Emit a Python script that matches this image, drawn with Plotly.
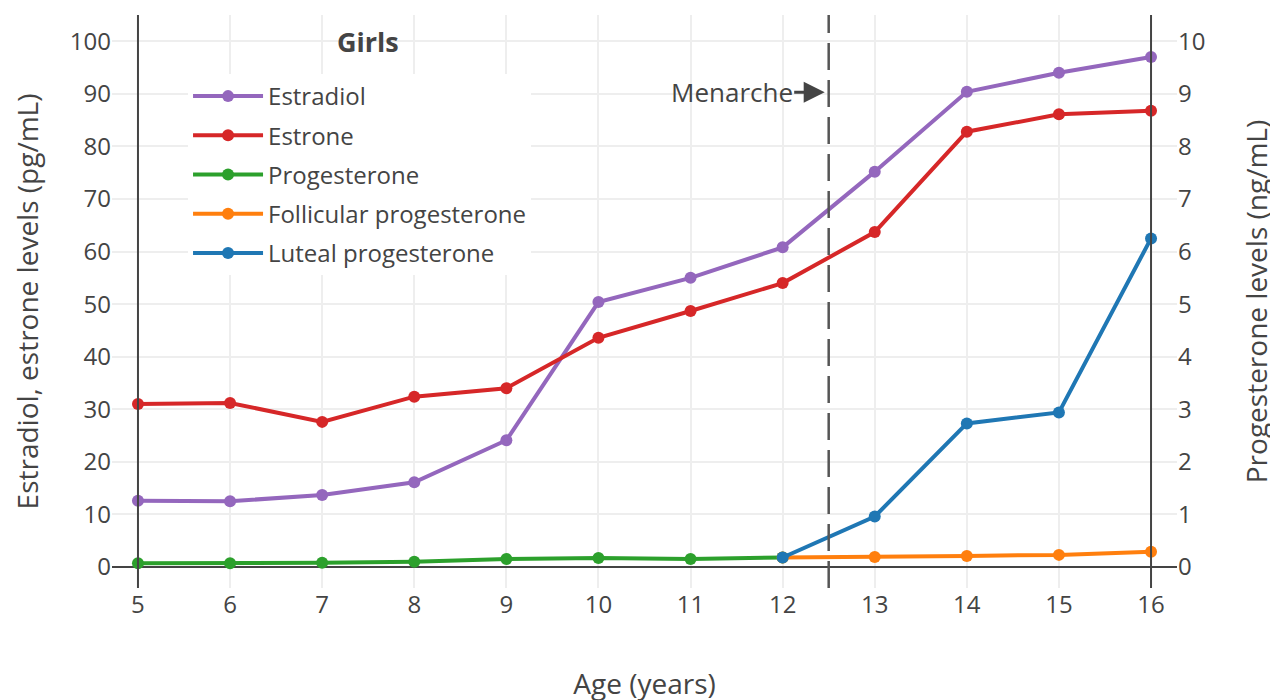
"""
Hormone levels in girls by age (estradiol, estrone, progesterone)
"""

import plotly.graph_objects as go

# ages (years)
age = [5, 6, 7, 8, 9, 10, 11, 12, 13, 14, 15, 16]
age_post = [12, 13, 14, 15, 16]
age_pre = [5, 6, 7, 8, 9, 10, 11, 12]

# pg/mL
estradiol = [12.6, 12.5, 13.7, 16.1, 24.1, 50.4, 55.0, 60.8, 75.2, 90.4, 94.0, 97.0]
estrone = [31.0, 31.2, 27.6, 32.4, 34.0, 43.6, 48.7, 54.0, 63.7, 82.8, 86.1, 86.8]

# ng/mL
progesterone = [0.07, 0.07, 0.08, 0.10, 0.15, 0.17, 0.15, 0.18]
follicular = [0.18, 0.19, 0.21, 0.23, 0.29]
luteal = [0.18, 0.96, 2.73, 2.94, 6.25]

menarche_age = 12.5

FONT = 'Open Sans, verdana, arial, sans-serif'
TXT = '#444'


def line_trace(x, y, name, color, yaxis='y'):
    return go.Scatter(
        x=x, y=y, name=name, mode='lines+markers',
        line=dict(color=color, width=4),
        marker=dict(color=color, size=12),
        yaxis=yaxis, legendgroup=name
    )


fig = go.Figure()
fig.add_trace(line_trace(age, estradiol, 'Estradiol', '#9467bd'))
fig.add_trace(line_trace(age, estrone, 'Estrone', '#d62728'))
fig.add_trace(line_trace(age_pre, progesterone, 'Progesterone', '#2ca02c', 'y2'))
fig.add_trace(line_trace(age_post, follicular, 'Follicular progesterone', '#ff7f0e', 'y2'))
fig.add_trace(line_trace(age_post, luteal, 'Luteal progesterone', '#1f77b4', 'y2'))

# axis lines at the first/last age and the menarche marker
for xv in (age[0], age[-1]):
    fig.add_shape(type='line', xref='x', yref='paper', x0=xv, x1=xv, y0=0, y1=1,
                  line=dict(color='#444', width=2), layer='above')
fig.add_shape(type='line', xref='x', yref='paper', x0=menarche_age, x1=menarche_age,
              y0=0, y1=1, line=dict(color='#555', width=2.5, dash='27px,10px'))

fig.add_annotation(x=7.5, y=100, text='<b>Girls</b>', showarrow=False,
                   font=dict(size=27, color=TXT))
fig.add_annotation(x=menarche_age, y=90.3, text='Menarche', showarrow=True,
                   ax=-97, ay=0, arrowhead=2, arrowsize=1.4, arrowwidth=3,
                   arrowcolor='#444', standoff=4, font=dict(size=26, color=TXT))

# page body adds 8px, so margins are shifted to keep the plot area in place
fig.update_layout(
    width=1278, height=700,
    margin=dict(l=104, r=109, t=7, b=120),
    paper_bgcolor='white', plot_bgcolor='white',
    font=dict(family=FONT, size=24, color=TXT),
    showlegend=True,
    legend=dict(x=0.0714, y=0.897, xanchor='left', yanchor='top',
                bgcolor='white', font=dict(size=24), tracegroupgap=5,
                itemwidth=70),
    xaxis=dict(range=[4.718, 16.282], tickvals=age, gridcolor='#eee', gridwidth=2,
               zeroline=False, showline=False, ticks='',
               tickfont=dict(size=24),
               title=dict(text='Age (years)', font=dict(size=28), standoff=55)),
    yaxis=dict(range=[-4, 105], dtick=10, gridcolor='#eee', gridwidth=2,
               zeroline=True, zerolinecolor='#444', zerolinewidth=2,
               showline=False, ticks='', tickfont=dict(size=24),
               title=dict(text='Estradiol, estrone levels (pg/mL)', font=dict(size=28),
                          standoff=24)),
    yaxis2=dict(range=[-0.4, 10.5], dtick=1, overlaying='y', side='right',
                showgrid=False, zeroline=False, showline=False, ticks='',
                tickfont=dict(size=24),
                title=dict(text='Progesterone levels (ng/mL)', font=dict(size=28),
                           standoff=42)),
)

fig.write_html('out.html')
